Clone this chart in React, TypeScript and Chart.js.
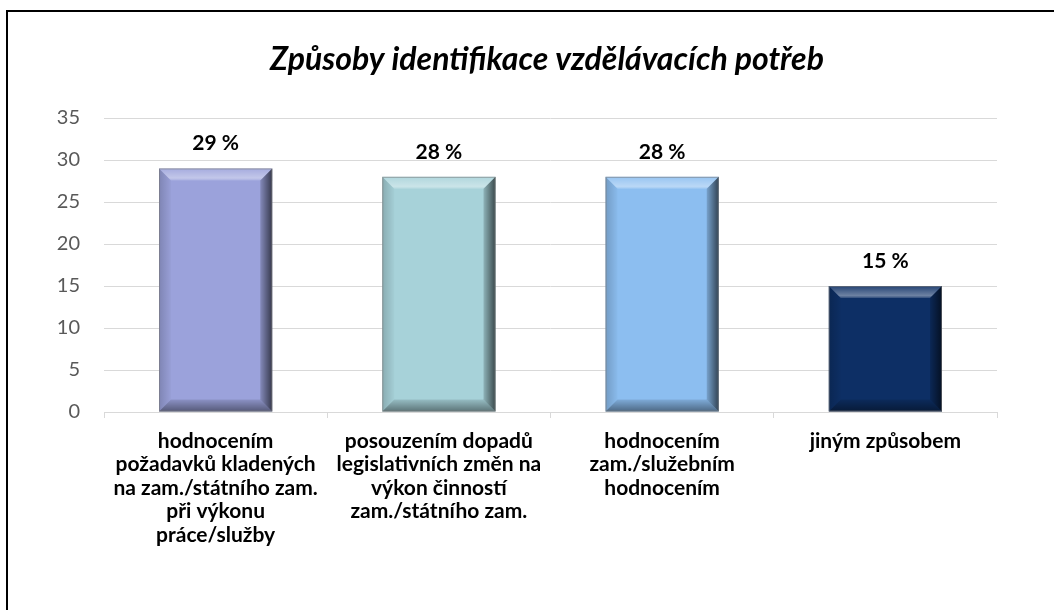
import React, { useEffect, useRef } from "react";
import { Chart, registerables } from "chart.js";

Chart.register(...registerables);

const chartTitle = "Způsoby identifikace vzdělávacích potřeb";
const categories: string[][] = [
  ["hodnocením", "požadavků kladených", "na zam./státního zam.", "při výkonu", "práce/služby"],
  ["posouzením dopadů", "legislativních změn na", "výkon činností", "zam./státního zam."],
  ["hodnocením", "zam./služebním", "hodnocením"],
  ["jiným způsobem"],
];
const values = [29, 28, 28, 15];
const valueLabels = ["29 %", "28 %", "28 %", "15 %"];
const barColors = ["#9BA2DB", "#A7D2D9", "#8CBEF0", "#0D2F65"];
const yMin = 0;
const yMax = 35;
const yStep = 5;

const FONT = "Lato, 'Open Sans', sans-serif";

const bevelPlugin = {
  id: "bevel",
  afterDatasetsDraw(chart: any) {
    const ctx = chart.ctx as CanvasRenderingContext2D;
    const meta = chart.getDatasetMeta(0);
    const poly = (pts: number[][], fill: any) => {
      ctx.beginPath();
      ctx.moveTo(pts[0][0], pts[0][1]);
      for (let i = 1; i < pts.length; i++) ctx.lineTo(pts[i][0], pts[i][1]);
      ctx.closePath();
      ctx.fillStyle = fill;
      ctx.fill();
    };
    meta.data.forEach((el: any) => {
      const p = el.getProps(["x", "y", "base", "width"], true);
      const l = p.x - p.width / 2;
      const r = p.x + p.width / 2;
      const t = Math.min(p.y, p.base);
      const b = Math.max(p.y, p.base);
      const s = 12;
      ctx.save();
      let g = ctx.createLinearGradient(0, t, 0, t + s);
      g.addColorStop(0, "rgba(255,255,255,0.10)");
      g.addColorStop(0.8, "rgba(255,255,255,0.40)");
      g.addColorStop(1, "rgba(255,255,255,0.15)");
      poly([[l, t], [r, t], [r - s, t + s], [l + s, t + s]], g);
      g = ctx.createLinearGradient(l, 0, l + s, 0);
      g.addColorStop(0, "rgba(0,0,0,0.18)");
      g.addColorStop(1, "rgba(0,0,0,0.02)");
      poly([[l, t], [l + s, t + s], [l + s, b - s], [l, b]], g);
      g = ctx.createLinearGradient(r - s, 0, r, 0);
      g.addColorStop(0, "rgba(0,0,0,0.15)");
      g.addColorStop(1, "rgba(0,0,0,0.65)");
      poly([[r, t], [r, b], [r - s, b - s], [r - s, t + s]], g);
      g = ctx.createLinearGradient(0, b - s, 0, b);
      g.addColorStop(0, "rgba(0,0,0,0.10)");
      g.addColorStop(1, "rgba(0,0,0,0.45)");
      poly([[l, b], [r, b], [r - s, b - s], [l + s, b - s]], g);
      ctx.strokeStyle = "rgba(120,120,120,0.6)";
      ctx.lineWidth = 1;
      ctx.strokeRect(l + 0.5, t + 0.5, p.width - 1, b - t - 1);
      ctx.restore();
    });
  },
};

const textPlugin = {
  id: "texts",
  afterDraw(chart: any) {
    const ctx = chart.ctx as CanvasRenderingContext2D;
    const meta = chart.getDatasetMeta(0);
    ctx.save();
    ctx.fillStyle = "#000";
    ctx.textAlign = "center";
    ctx.textBaseline = "middle";
    ctx.font = `bold 21px ${FONT}`;
    meta.data.forEach((el: any, i: number) => {
      ctx.fillText(valueLabels[i], el.x, el.y - 25);
    });
    ctx.font = `italic bold 32px ${FONT}`;
    ctx.fillText(chartTitle, 547, 60);
    ctx.restore();
  },
};

export default function App() {
  const ref = useRef<HTMLCanvasElement | null>(null);
  useEffect(() => {
    if (!ref.current) return;
    const chart = new Chart(ref.current, {
      type: "bar",
      data: {
        labels: categories,
        datasets: [
          {
            data: values,
            backgroundColor: barColors,
            borderWidth: 0,
            categoryPercentage: 1,
            barPercentage: 0.507,
          },
        ],
      },
      options: {
        animation: false,
        responsive: false,
        devicePixelRatio: 1,
        layout: { padding: { left: 0, right: 57, top: 118, bottom: 0 } },
        plugins: {
          legend: { display: false },
          tooltip: { enabled: false },
          title: { display: false },
        },
        scales: {
          x: {
            afterFit: (s: any) => {
              s.height = 198;
            },
            grid: {
              display: true,
              drawOnChartArea: false,
              drawTicks: true,
              tickLength: 6,
              color: "#D9D9D9",
              offset: true,
            },
            border: { display: true, color: "#D9D9D9" },
            ticks: {
              color: "#000",
              font: { family: FONT, size: 21, weight: "bold", lineHeight: "23.5px" },
              padding: 11,
              maxRotation: 0,
              autoSkip: false,
            },
          },
          y: {
            min: yMin,
            max: yMax,
            afterFit: (s: any) => {
              s.width = 104;
            },
            grid: { color: "#D9D9D9", drawTicks: false },
            border: { display: false },
            ticks: {
              stepSize: yStep,
              color: "#595959",
              font: { family: FONT, size: 20 },
              padding: 24,
            },
          },
        },
      },
      plugins: [bevelPlugin, textPlugin],
    });
    return () => chart.destroy();
  }, []);

  return (
    <div
      style={{
        position: "absolute",
        left: 0,
        top: 0,
        width: 1054,
        height: 610,
        overflow: "hidden",
        background: "#fff",
      }}
    >
      <div
        style={{
          position: "absolute",
          left: 6,
          top: 10,
          width: 1100,
          height: 700,
          borderLeft: "2px solid #000",
          borderTop: "2px solid #000",
        }}
      />
      <canvas
        ref={ref}
        width={1054}
        height={610}
        style={{ position: "absolute", left: 0, top: 0, width: 1054, height: 610 }}
      />
    </div>
  );
}
